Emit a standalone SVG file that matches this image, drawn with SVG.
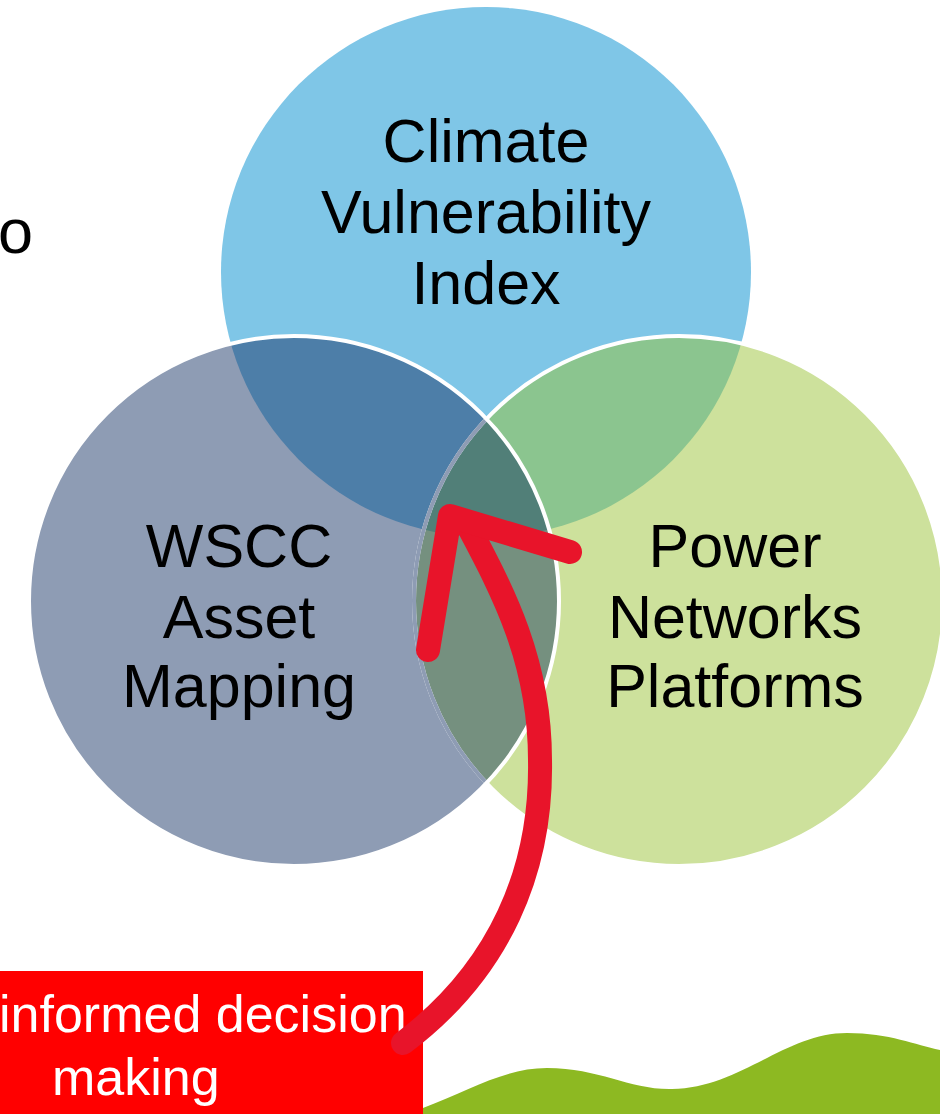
<svg xmlns="http://www.w3.org/2000/svg" width="940" height="1114" viewBox="0 0 940 1114">
  <style>
    .lbl { font-family: "Liberation Sans", Arial, sans-serif; font-size: 61px; fill: #000000; text-anchor: middle; }
    .box-lbl { font-family: "Liberation Sans", Arial, sans-serif; font-size: 52px; fill: #FFFFFF; }
    .ring { fill: none; stroke-width: 4; }
    .arrow { fill: none; stroke: #E8142A; stroke-width: 24; stroke-linecap: round; stroke-linejoin: round; }
  </style>
  <defs>
    <clipPath id="cT"><circle cx="486" cy="272" r="265"/></clipPath>
    <clipPath id="cL"><circle cx="294" cy="601" r="265"/></clipPath>
    <clipPath id="cR"><circle cx="679" cy="601" r="265"/></clipPath>
  </defs>
  <rect width="940" height="1114" fill="#FFFFFF"/>

  <text class="lbl" x="-2" y="253" style="text-anchor:start;font-size:63px">o</text>

  <g id="climate-vulnerability-index">
    <circle cx="486" cy="272" r="265" fill="#7FC6E7"/>
    <text class="lbl" x="486" y="162">Climate</text>
    <text class="lbl" x="486" y="233">Vulnerability</text>
    <text class="lbl" x="486" y="304">Index</text>
  </g>

  <g id="wscc-asset-mapping">
    <circle cx="294" cy="601" r="265" fill="#8E9CB4"/>
    <text class="lbl" x="239" y="567">WSCC</text>
    <text class="lbl" x="239" y="638">Asset</text>
    <text class="lbl" x="239" y="707">Mapping</text>
  </g>

  <g id="power-networks-platforms">
    <circle cx="679" cy="601" r="265" fill="#CDE19C"/>
    <text class="lbl" x="735" y="567">Power</text>
    <text class="lbl" x="735" y="638">Networks</text>
    <text class="lbl" x="735" y="707">Platforms</text>
  </g>

  <g id="overlaps">
    <circle cx="294" cy="601" r="265" fill="#4D7EA8" clip-path="url(#cT)"/>
    <circle cx="679" cy="601" r="265" fill="#8BC58F" clip-path="url(#cT)"/>
    <circle cx="679" cy="601" r="265" fill="#75907F" clip-path="url(#cL)"/>
    <g clip-path="url(#cL)">
      <circle cx="679" cy="601" r="265" fill="#517F78" clip-path="url(#cT)"/>
    </g>
  </g>

  <g id="outlines">
    <circle class="ring" cx="679" cy="601" r="265" stroke="#FFFFFF"/>
    <circle class="ring" cx="679" cy="601" r="265" stroke="#8E9CB4" clip-path="url(#cL)"/>
    <circle class="ring" cx="294" cy="601" r="265" stroke="#FFFFFF"/>
  </g>

  <path id="ground-wave" d="M423,1108 C470,1090 505,1068 547,1068 C600,1068 630,1090 672,1089 C740,1088 785,1033 847,1033 C890,1033 915,1045 940,1050 L940,1114 L423,1114 Z" fill="#8DB922"/>

  <g id="informed-decision-making">
    <rect x="0" y="971" width="423" height="143" fill="#FF0000"/>
    <text class="box-lbl" x="-1" y="1032">informed decision</text>
    <text class="box-lbl" x="52" y="1095">making</text>
  </g>

  <g id="connectors">
    <path class="arrow" d="M467,524 C502,590 540,660 540,760 C542,870 500,970 403,1043"/>
    <path class="arrow" d="M428,650 L450,516 L570,552"/>
  </g>
</svg>
